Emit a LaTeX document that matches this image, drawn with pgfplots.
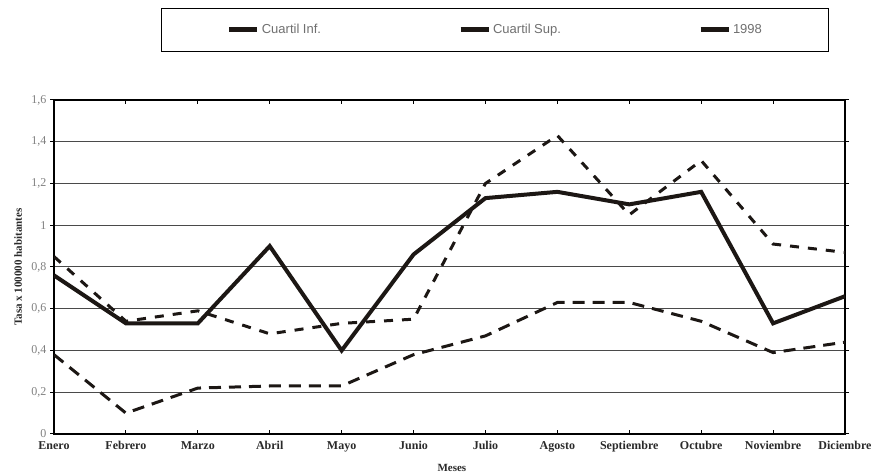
\documentclass[border=0pt]{standalone}
\usepackage{fontspec}
\setmainfont{Liberation Serif}
\newfontfamily\legfont{Liberation Sans}
\usepackage{pgfplots}
\pgfplotsset{compat=1.18}
\definecolor{ink}{HTML}{1C1714}
\definecolor{gridc}{HTML}{4A4A4A}
\definecolor{legtxt}{HTML}{707070}
\definecolor{lbl}{HTML}{2A2A2A}
\begin{document}
\begin{tikzpicture}
\useasboundingbox (-54pt,-42pt) rectangle (826pt,434pt);
\begin{axis}[
  at={(0,0)}, anchor=south west,
  scale only axis, width=791pt, height=334pt,
  xmin=0, xmax=11, ymin=0, ymax=1.6,
  xtick={0,1,2,3,4,5,6,7,8,9,10,11},
  xticklabels={Enero,Febrero,Marzo,Abril,Mayo,Junio,Julio,Agosto,Septiembre,Octubre,Noviembre,Diciembre},
  ytick={0,0.2,0.4,0.6,0.8,1,1.2,1.4,1.6},
  yticklabels={0,{0,2},{0,4},{0,6},{0,8},1,{1,2},{1,4},{1,6}},
  xticklabel style={font=\bfseries\fontsize{12}{13}\selectfont, text=lbl, yshift=-4pt},
  yticklabel style={font=\fontsize{12}{13}\selectfont, text=gray},
  ytick align=outside, xtick align=inside,
  major tick length=4pt,
  tick style={black, line width=1pt},
  ymajorgrids, grid style={gridc, line width=1pt},
  axis line style={black, line width=1.5pt},
  xlabel={Meses}, ylabel={Tasa x 100000 habitantes},
  xlabel style={at={(axis description cs:0.503,-0.102)}, anchor=center, font=\bfseries\fontsize{11}{12}\selectfont, text=lbl},
  ylabel style={at={(axis description cs:-0.0455,0.5)}, anchor=center, font=\bfseries\fontsize{11}{12}\selectfont, text=lbl},
  legend columns=3,
  legend style={at={(0.558,1.2096)}, anchor=center, draw=black, line width=1pt,
    font=\legfont\fontsize{13}{15}\selectfont, text=legtxt,
    inner xsep=65pt, inner ysep=14pt},
  legend image code/.code={\draw[solid, line width=5pt, ink] (0pt,0pt) -- (28pt,0pt);},
  /tikz/every even column/.append style={column sep=135pt},
]
\addplot[ink, line width=3pt, dash pattern=on 12pt off 8pt] coordinates {
 (0,0.38) (1,0.10) (2,0.22) (3,0.23) (4,0.23) (5,0.38) (6,0.47) (7,0.63) (8,0.63) (9,0.54) (10,0.39) (11,0.44)};
\addlegendentry{Cuartil Inf.}
\addplot[ink, line width=3pt, dash pattern=on 9pt off 9pt] coordinates {
 (0,0.85) (1,0.54) (2,0.59) (3,0.48) (4,0.53) (5,0.55) (6,1.20) (7,1.43) (8,1.05) (9,1.31) (10,0.91) (11,0.87)};
\addlegendentry{Cuartil Sup.}
\addplot[ink, line width=4pt] coordinates {
 (0,0.76) (1,0.53) (2,0.53) (3,0.90) (4,0.40) (5,0.86) (6,1.13) (7,1.16) (8,1.10) (9,1.16) (10,0.53) (11,0.66)};
\addlegendentry{1998}
\end{axis}
\end{tikzpicture}
\end{document}
